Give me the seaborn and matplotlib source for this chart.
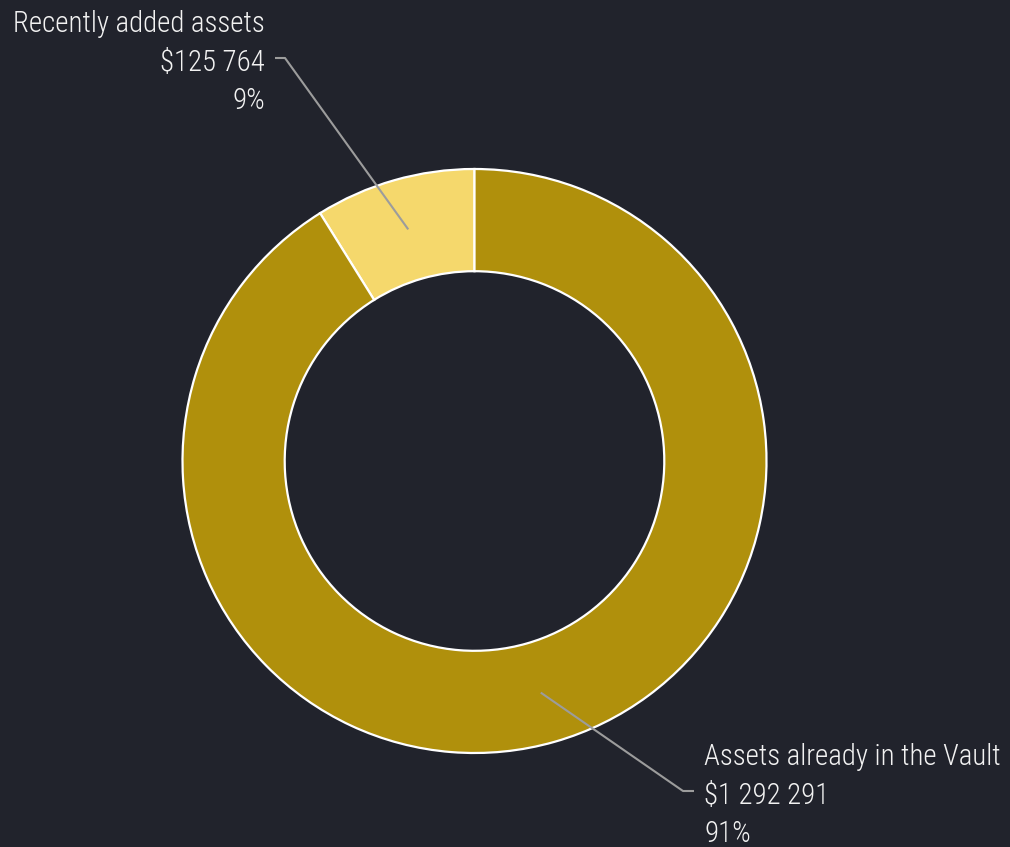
import numpy as np
import matplotlib
matplotlib.use("Agg")
import matplotlib.pyplot as plt
import seaborn as sns
from matplotlib import font_manager

# ---- data ----
categories = ["Recently added assets", "Assets already in the Vault"]
values = [125764, 1292291]
colors = ["#f5d86c", "#b0900c"]

BG = "#21232c"
sns.set_theme(style="white")

# pick the narrowest installed face available
tl = font_manager.fontManager.ttflist
fam, stretch, weight = "Roboto", "normal", "normal"
names = {f.name for f in tl}
if "Roboto Condensed" in names:
    fam = "Roboto Condensed"
elif "Liberation Sans Narrow" in names:
    fam = "Liberation Sans Narrow"
elif any(f.name == "DejaVu Sans" and "condensed" in str(f.stretch) for f in tl):
    fam, stretch = "DejaVu Sans", "condensed"
if any(f.name == fam and f.weight in (300, "light") for f in tl):
    weight = "light"
plt.rcParams["font.family"] = [fam, "DejaVu Sans"]

W, H = 1010, 847
fig = plt.figure(figsize=(W / 100, H / 100), dpi=100, facecolor=BG)
ax = fig.add_axes([0, 0, 1, 1])
ax.set_facecolor(BG)

CX, CY, R = 474.5, 461.0, 292.0  # pixel layout of the donut


def px(x, y):
    return ((x - CX) / R, (CY - y) / R)


wedges, _ = ax.pie(values, colors=colors, startangle=90, counterclock=True,
                   radius=1.0,
                   wedgeprops=dict(width=0.35, edgecolor="white", linewidth=1.6))
ax.set_xlim(-CX / R, (W - CX) / R)
ax.set_ylim(-(H - CY) / R, CY / R)
ax.set_aspect("equal")
ax.axis("off")

total = sum(values)
pcts = [round(v / total * 100) for v in values]


def fmt(v):
    return "$" + f"{v:,}".replace(",", " ")


# fit font size so the longest label spans ~296 px as in the reference
renderer = fig.canvas.get_renderer()
probe = fig.text(0, 0, categories[1], fontsize=22, fontstretch=stretch, fontweight=weight)
wpx = probe.get_window_extent(renderer).width
probe.remove()
fs = min(22.0, 22.0 * 296.0 / wpx)

# leader layout: (elbow px, end px, text anchor x, first baseline y, ha)
layout = [
    ((285, 58), (275, 58), 265, 32, "right"),
    ((683, 791), (694, 791), 704, 765, "left"),
]
LH = 38.5
lead_r = 0.825
for w, cat, v, p, (elb, end, tx, ty, ha) in zip(wedges, categories, values, pcts, layout):
    ang = np.deg2rad((w.theta1 + w.theta2) / 2)
    sx, sy = lead_r * np.cos(ang), lead_r * np.sin(ang)
    ex, ey = px(*elb)
    fx, fy = px(*end)
    ax.plot([sx, ex, fx], [sy, ey, fy], color="#9c9c9c", lw=1.5,
            solid_capstyle="butt", zorder=5)
    for i, line in enumerate([cat, fmt(v), f"{p}%"]):
        x, y = px(tx, ty + i * LH)
        ax.text(x, y, line, ha=ha, va="baseline", color="#f2f2f2",
                fontsize=fs, fontstretch=stretch, fontweight=weight, zorder=6)

fig.savefig("out.png", dpi=100, facecolor=BG)
